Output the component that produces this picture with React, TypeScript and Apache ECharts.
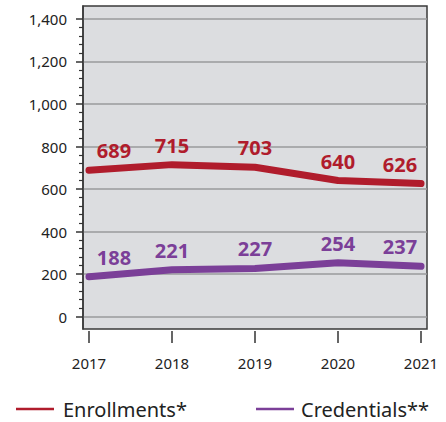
import React, { useEffect, useRef } from "react";
import * as echarts from "echarts";

const years = [2017, 2018, 2019, 2020, 2021];
const enrollments = [689, 715, 703, 640, 626];
const credentials = [188, 221, 227, 254, 237];
const yTickValues = [0, 200, 400, 600, 800, 1000, 1200, 1400];
const seriesNames = ["Enrollments*", "Credentials**"];

const RED = "#b01c2c";
const PURPLE = "#7b3f98";
const FONT = "Noto Sans";

function minorTicks(): number[] {
  const out: number[] = [];
  for (let v = 40; v < 1400; v += 40) {
    if (v % 200 !== 0) out.push(v);
  }
  return out;
}

function buildData(vals: number[]) {
  return vals.map((v, i) => {
    let offset = [0, 0];
    if (i === 0) offset = [25, 0];
    if (i === vals.length - 1) offset = [-21, 0];
    return { value: [years[i], v], label: { offset } };
  });
}

function makeSeries(name: string, vals: number[], color: string) {
  return {
    name,
    type: "line",
    data: buildData(vals),
    symbol: "circle",
    symbolSize: 1,
    itemStyle: { color },
    lineStyle: { color, width: 7, cap: "round", join: "round" },
    z: 3,
    label: {
      show: true,
      position: "top",
      distance: 9,
      color,
      fontFamily: FONT,
      fontWeight: "bold",
      fontSize: 20,
    },
  };
}

export default function App() {
  const ref = useRef<HTMLDivElement>(null);
  useEffect(() => {
    document.body.style.margin = "0";
    if (!ref.current) return;
    const chart = echarts.init(ref.current, null, { renderer: "svg" });
    chart.setOption({
      animation: false,
      backgroundColor: "#ffffff",
      grid: {
        left: 83,
        top: 6,
        right: 19,
        bottom: 93,
        show: true,
        backgroundColor: "#dcdde0",
        borderColor: "#3a3a3a",
        borderWidth: 1.5,
      },
      legend: [
        {
          data: [seriesNames[0]],
          left: 11,
          top: 394,
          icon: "rect",
          itemWidth: 38,
          itemHeight: 2.5,
          textStyle: { fontFamily: FONT, fontSize: 20, color: "#222", padding: [0, 0, 0, 4] },
        },
        {
          data: [seriesNames[1]],
          left: 251,
          top: 394,
          icon: "rect",
          itemWidth: 38,
          itemHeight: 2.5,
          textStyle: { fontFamily: FONT, fontSize: 20, color: "#222", padding: [0, 0, 0, 2] },
        },
      ],
      xAxis: {
        type: "value",
        min: 2016.928,
        max: 2021.072,
        offset: 2,
        axisLine: { show: false, onZero: false },
        axisTick: {
          show: true,
          customValues: years,
          length: 12,
          lineStyle: { color: "#333", width: 1.5 },
        },
        axisLabel: {
          customValues: years,
          formatter: (v: number) => String(v),
          fontFamily: FONT,
          fontSize: 15,
          color: "#222",
          margin: 24,
        },
        splitLine: { show: false },
      },
      yAxis: [
        {
          type: "value",
          min: -58,
          max: 1461,
          axisLine: { show: true, onZero: false, lineStyle: { color: "#3a3a3a", width: 1.5 } },
          axisTick: {
            show: true,
            customValues: yTickValues,
            length: 7,
            lineStyle: { color: "#333", width: 1.5 },
          },
          axisLabel: {
            customValues: yTickValues,
            formatter: (v: number) => v.toLocaleString("en-US"),
            fontFamily: FONT,
            fontSize: 15,
            color: "#222",
            margin: 16,
          },
          splitLine: { show: true, lineStyle: { color: "#9a9a9c", width: 1.5 } },
        },
        {
          type: "value",
          min: -58,
          max: 1461,
          position: "left",
          axisLine: { show: false, onZero: false },
          axisTick: {
            show: true,
            customValues: minorTicks(),
            length: 4,
            lineStyle: { color: "#333", width: 1.2 },
          },
          axisLabel: { show: false },
          splitLine: { show: false },
        },
      ],
      series: [
        makeSeries(seriesNames[0], enrollments, RED),
        makeSeries(seriesNames[1], credentials, PURPLE),
      ],
    });
    return () => chart.dispose();
  }, []);
  return <div ref={ref} style={{ width: 446, height: 422 }} />;
}
